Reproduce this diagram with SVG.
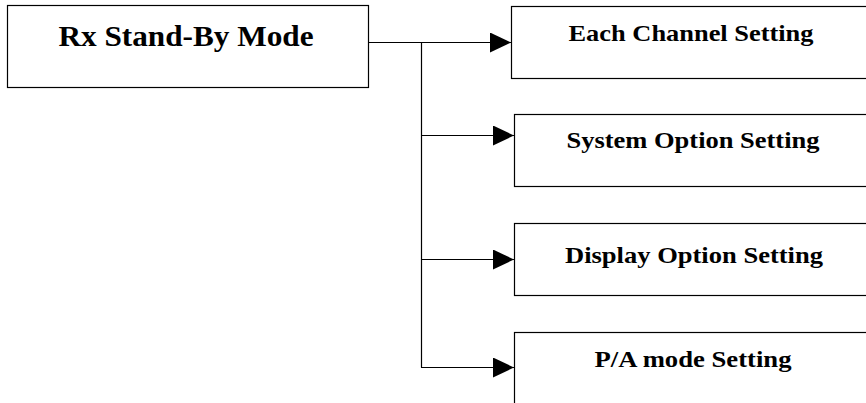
<svg xmlns="http://www.w3.org/2000/svg" width="866" height="403" viewBox="0 0 866 403">
<style>
.box{fill:#fff;stroke:#000;stroke-width:1.2}
.t{font-family:"Liberation Serif","Times New Roman",serif;font-weight:bold;fill:#000;text-anchor:middle}
.c{fill:none;stroke:#000;stroke-width:1.2}
</style>
<defs>
<marker id="ah" markerUnits="userSpaceOnUse" markerWidth="22" markerHeight="22" refX="21" refY="10" orient="auto">
<path d="M0,0 L21,10 L0,20 Z" fill="#000"/>
</marker>
</defs>
<rect width="866" height="403" fill="#fff"/>
<g id="rx">
<rect class="box" x="7.5" y="5.5" width="361" height="82"/>
<text class="t" x="186" y="46" font-size="28.5" textLength="255" lengthAdjust="spacingAndGlyphs">Rx Stand-By Mode</text>
</g>
<g id="each">
<rect class="box" x="511.5" y="6.5" width="360" height="72"/>
<text class="t" x="691" y="41" font-size="23.5" textLength="245" lengthAdjust="spacingAndGlyphs">Each Channel Setting</text>
</g>
<g id="system">
<rect class="box" x="514.5" y="114.5" width="360" height="72"/>
<text class="t" x="693" y="148" font-size="23.5" textLength="253" lengthAdjust="spacingAndGlyphs">System Option Setting</text>
</g>
<g id="display">
<rect class="box" x="514.5" y="223.5" width="360" height="72"/>
<text class="t" x="694" y="263" font-size="23.5" textLength="258" lengthAdjust="spacingAndGlyphs">Display Option Setting</text>
</g>
<g id="pa">
<rect class="box" x="514.5" y="332.5" width="360" height="80"/>
<text class="t" x="693" y="367" font-size="23.5" textLength="197" lengthAdjust="spacingAndGlyphs">P/A mode Setting</text>
</g>
<g id="connectors">
<path class="c" d="M368,42.5 H511" marker-end="url(#ah)"/>
<path class="c" d="M421.5,42 V367.5"/>
<path class="c" d="M421,135.5 H514" marker-end="url(#ah)"/>
<path class="c" d="M421,259.5 H514" marker-end="url(#ah)"/>
<path class="c" d="M421,367.5 H514" marker-end="url(#ah)"/>
</g>
</svg>
